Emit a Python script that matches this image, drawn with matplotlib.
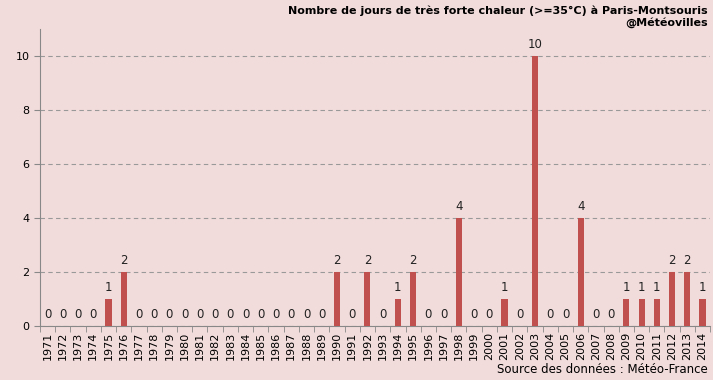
import numpy as np
import matplotlib.pyplot as plt

years = list(range(1971, 2015))
jours = [0, 0, 0, 0, 1, 2, 0, 0, 0, 0, 0, 0, 0, 0, 0, 0, 0, 0, 0,
         2, 0, 2, 0, 1, 2, 0, 0, 4, 0, 0, 1, 0, 10, 0, 0, 4, 0, 0,
         1, 1, 1, 2, 2, 1]

bg = "#f2dcdb"
bar_col = "#c0504d"

fig = plt.figure(figsize=(7.13, 3.8), dpi=100, facecolor=bg)
ax = fig.add_axes([0.056, 0.142, 0.94, 0.782], facecolor=bg)

x = np.arange(len(years))
ax.bar(x, jours, width=0.4, color=bar_col, zorder=3)
for xi, v in zip(x, jours):
    ax.text(xi, v + 0.18, str(v), ha="center", va="bottom", fontsize=8.5, color="#222222")

ax.set_xlim(-0.5, len(years) - 0.5)
ax.set_ylim(0, 11)
ax.set_yticks([0, 2, 4, 6, 8, 10])
ax.set_xticks(x)
ax.set_xticklabels([str(y) for y in years], rotation=90, fontsize=8)
ax.set_xticks(np.arange(-0.5, len(years)), minor=True)
ax.tick_params(axis="x", which="major", length=0, pad=4)
ax.tick_params(axis="x", which="minor", length=4, color="#888888")
ax.tick_params(axis="y", length=4, color="#888888", labelsize=8)
ax.yaxis.grid(True, linestyle=(0, (4, 3)), color="#999999", linewidth=0.8, zorder=0)

for s in ["top", "right"]:
    ax.spines[s].set_visible(False)
for s in ["left", "bottom"]:
    ax.spines[s].set_color("#888888")

fig.text(0.993, 0.985, "Nombre de jours de très forte chaleur (>=35°C) à Paris-Montsouris\n@Météovilles",
         ha="right", va="top", fontsize=8, fontweight="bold", linespacing=1.15)
fig.text(0.993, 0.01, "Source des données : Météo-France", ha="right", va="bottom", fontsize=8.5)

fig.savefig("out.png", dpi=100, facecolor=bg)
